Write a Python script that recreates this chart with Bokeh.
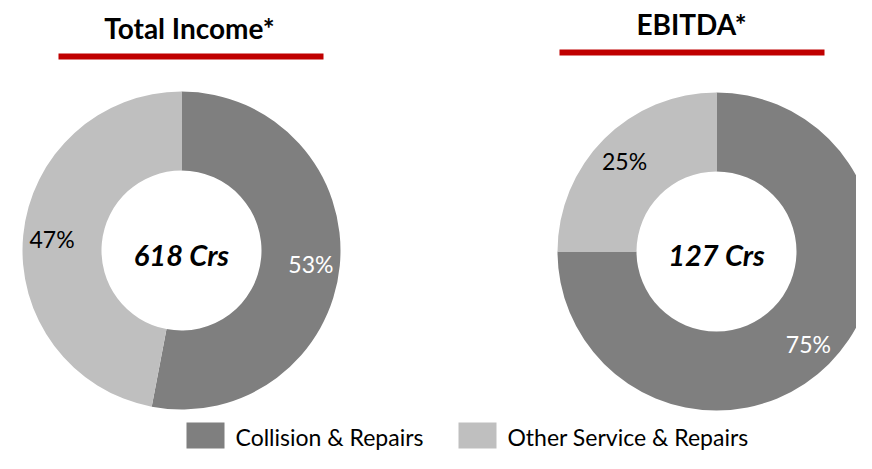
import math
from bokeh.plotting import figure
from bokeh.models import Range1d, ColumnDataSource
from bokeh.core.properties import value
from bokeh.embed import file_html
from bokeh.resources import INLINE

# ---------------- data ----------------
segments = ["Collision & Repairs", "Other Service & Repairs"]
seg_colors = ["#7F7F7F", "#BFBFBF"]
label_colors = ["#FFFFFF", "#000000"]
chart_titles = ["Total Income*", "EBITDA*"]
center_labels = ["618 Crs", "127 Crs"]
total_income_share = [53, 47]
ebitda_share = [75, 25]
shares = [total_income_share, ebitda_share]

# ---------------- layout (picture pixels) ----------------
W, H = 856, 453
def Y(py):
    return H - py

FONT = "Lato"
centers = [(181, 250), (716, 251)]
R_OUT, R_IN, R_LBL = 159, 80, 130
title_pos = [(189, 27.5), (691, 23.5)]
center_label_y = [254, 253.5]
bar_pos = [(58, 323, 56), (559, 824, 52)]
legend_x = [186, 458]
legend_sw, legend_sh = 38, 26
legend_y = 435

p = figure(width=W, height=H, output_backend="svg", toolbar_location=None,
           x_range=Range1d(0, W), y_range=Range1d(0, H),
           min_border=0, outline_line_color=None, background_fill_color="white",
           border_fill_color="white")
p.axis.visible = False
p.grid.visible = False

for ci, vals in enumerate(shares):
    cx, cy = centers[ci]
    total = float(sum(vals))
    cum = 0.0
    starts, ends, lx, ly, ltxt = [], [], [], [], []
    for v in vals:
        a0 = math.pi / 2 - 2 * math.pi * cum / total
        a1 = math.pi / 2 - 2 * math.pi * (cum + v) / total
        starts.append(a0)
        ends.append(a1)
        mid = (a0 + a1) / 2
        lx.append(cx + R_LBL * math.cos(mid))
        ly.append(Y(cy) + R_LBL * math.sin(mid) - 1)
        ltxt.append(f"{v}%")
        cum += v
    src = ColumnDataSource(dict(x=[cx] * len(vals), y=[Y(cy)] * len(vals),
                                s=starts, e=ends, c=seg_colors[:len(vals)]))
    p.annular_wedge(x="x", y="y", inner_radius=R_IN, outer_radius=R_OUT,
                    start_angle="s", end_angle="e", direction="clock",
                    fill_color="c", line_color=None, source=src)
    lsrc = ColumnDataSource(dict(x=lx, y=ly, t=ltxt, c=label_colors[:len(vals)]))
    p.text(x="x", y="y", text="t", text_color="c", source=lsrc,
           text_font=value(FONT), text_font_size="23px",
           text_align="center", text_baseline="middle")
    # center label
    p.text(x=[cx], y=[Y(center_label_y[ci])], text=[center_labels[ci]],
           text_font=value(FONT), text_font_size="29px", text_font_style="bold italic",
           text_color="#000000", text_align="center", text_baseline="middle")
    # title
    tx, ty = title_pos[ci]
    p.text(x=[tx], y=[Y(ty)], text=[chart_titles[ci]],
           text_font=value(FONT), text_font_size="28px", text_font_style="bold",
           text_color="#000000", text_align="center", text_baseline="middle")
    x0, x1, by = bar_pos[ci]
    p.rect(x=[(x0 + x1) / 2], y=[Y(by)], width=x1 - x0, height=6,
           fill_color="#C00000", line_color=None)

# legend
for i, name in enumerate(segments):
    lx0 = legend_x[i]
    p.rect(x=[lx0 + legend_sw / 2], y=[Y(legend_y)], width=legend_sw, height=legend_sh,
           fill_color=seg_colors[i], line_color=None)
    p.text(x=[lx0 + legend_sw + 11], y=[Y(legend_y + 1)], text=[name],
           text_font=value(FONT), text_font_size="23px", text_color="#000000",
           text_align="left", text_baseline="middle")

open("out.html", "w").write(file_html(p, INLINE))
